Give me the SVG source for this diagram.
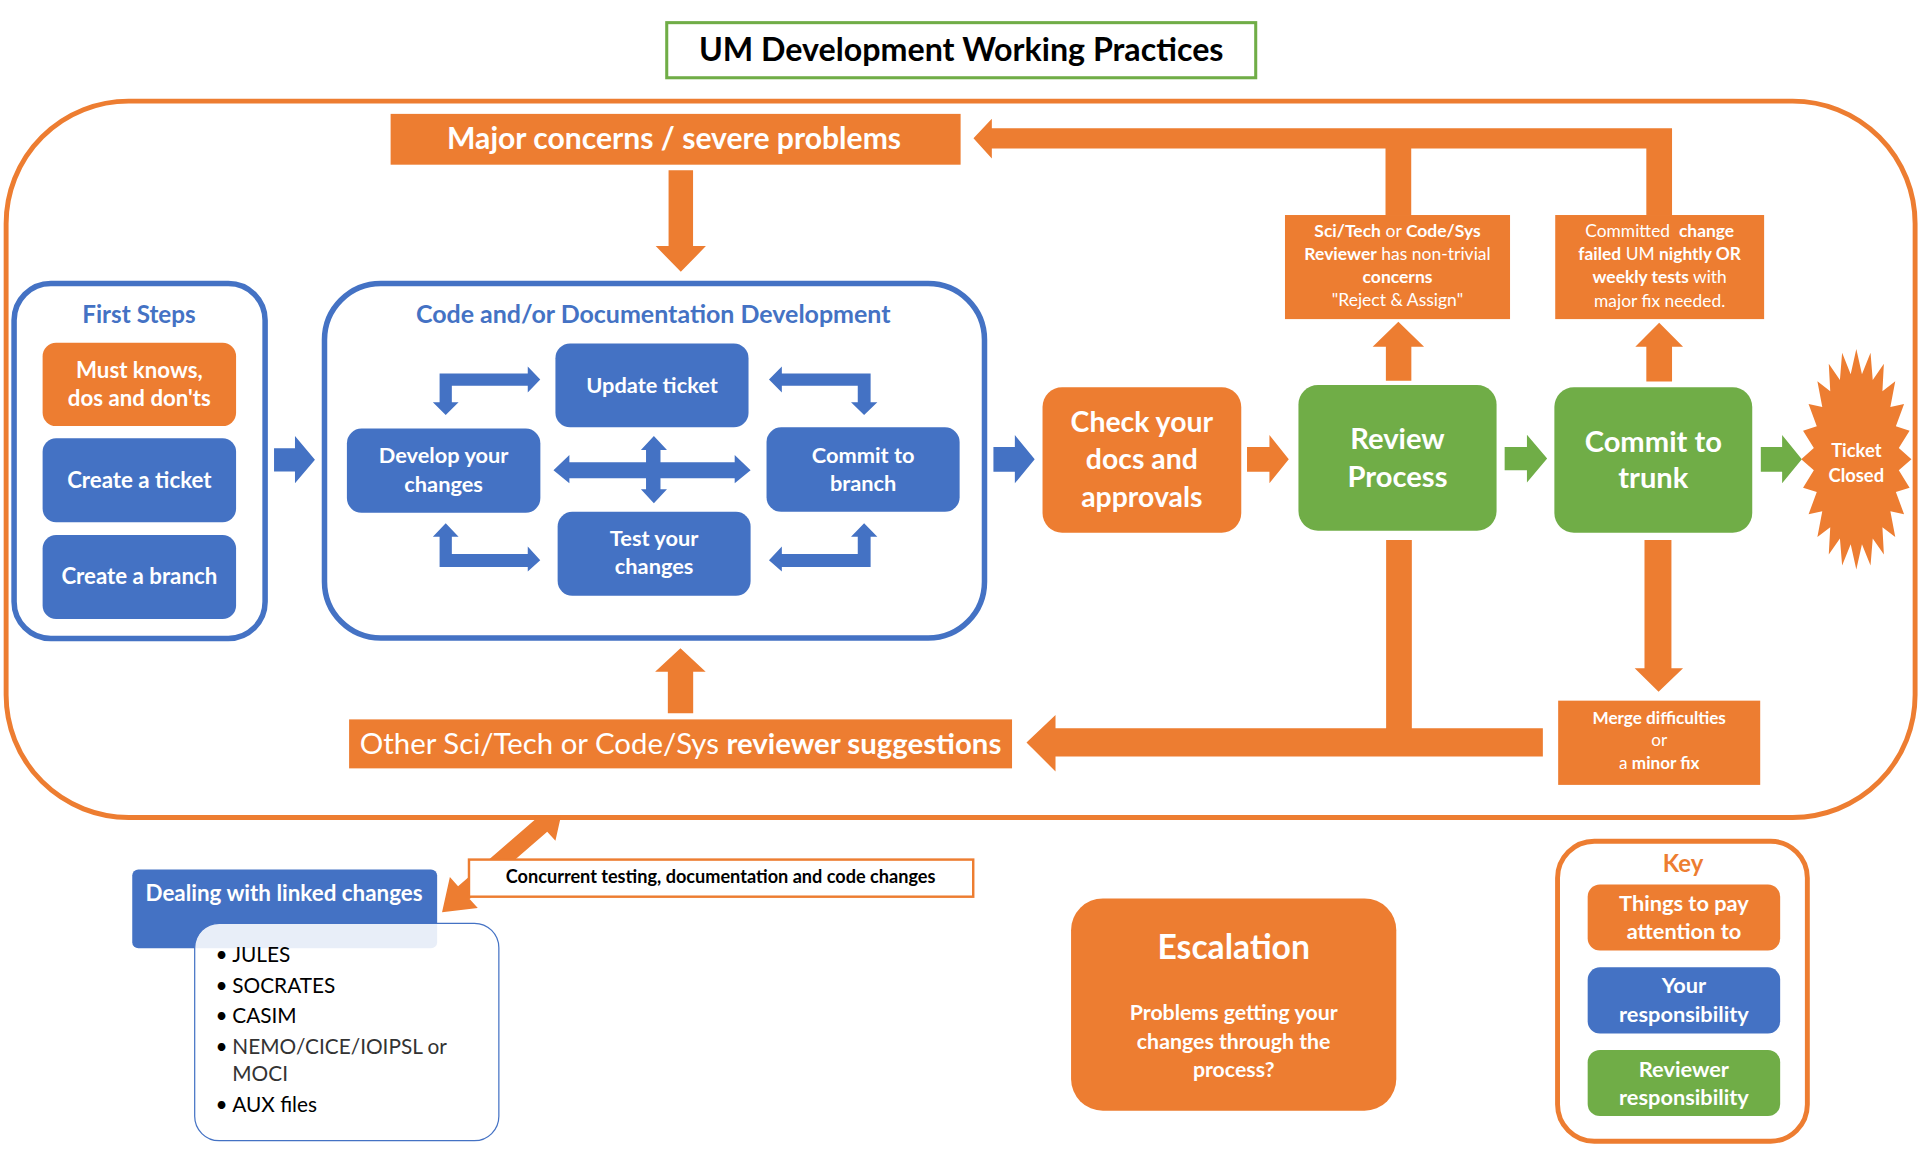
<svg xmlns="http://www.w3.org/2000/svg" width="1920" height="1152" viewBox="0 0 1920 1152">
<defs>
<style>
.o{fill:#ED7D31}.b{fill:#4472C4}.g{fill:#70AD47}
text{font-family:Lato,"Open Sans","Liberation Sans",sans-serif}
.w{fill:#fff;font-weight:bold;text-anchor:middle}
.wn{fill:#fff;text-anchor:middle}
.bt{fill:#4472C4;font-weight:bold;text-anchor:middle}
.n{font-weight:normal}
.bo{font-weight:bold}
</style>
<clipPath id="below"><rect x="0" y="667.5" width="1600" height="300"/></clipPath>
</defs>
<rect x="0" y="0" width="1920" height="1152" fill="#fff"/>
<g transform="scale(1.2244898)">

<g id="outer-frame">
<rect x="5" y="82.6" width="1559" height="585" rx="100" ry="100" fill="none" stroke="#ED7D31" stroke-width="4"/>
</g>

<g id="title">
<rect x="544.5" y="18.5" width="481" height="45" fill="#fff" stroke="#70AD47" stroke-width="2.5"/>
<text x="785" y="50" font-size="26.3" font-weight="bold" text-anchor="middle" fill="#000">UM Development Working Practices</text>
</g>

<g id="connectors">
<path class="o" d="M795,113 L810,97 L810,104.8 L1365.5,104.8 L1365.5,176 L1344.5,176 L1344.5,121.2 L1152.5,121.2 L1152.5,176 L1131.5,176 L1131.5,121.2 L810,121.2 L810,129.5 Z"/>
<path class="o" d="M546,139 L566,139 L566,201 L576.5,201 L556,222 L535.5,201 L546,201 Z"/>
<path class="b" d="M223.8,366 L240.9,366 L240.9,356 L257.2,375.4 L240.9,394.7 L240.9,385 L223.8,385 Z"/>
<path class="b" d="M811.3,365 L828.8,365 L828.8,355.3 L845,375 L828.8,394.7 L828.8,385.2 L811.3,385.2 Z"/>
<path class="o" d="M1018.4,365 L1036.7,365 L1036.7,355.3 L1052.5,375 L1036.7,394.7 L1036.7,385.2 L1018.4,385.2 Z"/>
<path class="g" d="M1228.8,365 L1247,365 L1247,355 L1263.5,374.5 L1247,394 L1247,384 L1228.8,384 Z"/>
<path class="g" d="M1438,365 L1455.4,365 L1455.4,355.3 L1471.5,375 L1455.4,394.7 L1455.4,385.2 L1438,385.2 Z"/>
<path class="o" d="M1131.8,311 L1131.8,283.1 L1121,283.1 L1142,262.7 L1163,283.1 L1152.6,283.1 L1152.6,311 Z"/>
<path class="o" d="M1344.5,311.5 L1344.5,283.1 L1335.5,283.1 L1355,263.5 L1374.5,283.1 L1365.5,283.1 L1365.5,311.5 Z"/>
<path class="o" d="M838.3,606.4 L862,584 L862,594.8 L1132,594.8 L1132,441 L1153,441 L1153,594.8 L1260,594.8 L1260,617.9 L862,617.9 L862,630 Z"/>
<path class="o" d="M1343,441 L1365,441 L1365,545.8 L1374.5,545.8 L1354.5,565 L1335,545.8 L1343,545.8 Z"/>
<path class="o" d="M545.4,582.5 L545.4,548.5 L535,548.5 L555.7,529.5 L576.3,548.5 L566.1,548.5 L566.1,582.5 Z"/>
<path class="o" clip-path="url(#below)" d="M460,658 L453.6,686.7 L446.9,679.3 L383.5,734.1 L390.2,741.5 L361,745 L367.4,716.3 L374.1,723.7 L437.5,668.9 L430.8,661.5 Z"/>
<path class="b" d="M359,305 L431,305 L431,299.4 L441.2,310 L431,320.5 L431,315 L369,315 L369,328.5 L374.5,328.5 L364,339 L353.5,328.5 L359,328.5 Z"/>
<path class="b" d="M711,305 L638.5,305 L638.5,299.4 L628,310 L638.5,320.5 L638.5,315 L700.5,315 L700.5,328.5 L695,328.5 L705.7,339 L716.5,328.5 L711,328.5 Z"/>
<path class="b" d="M359,463 L431,463 L431,466.8 L441.2,457.5 L431,446.4 L431,452.5 L369,452.5 L369,438.3 L374.5,438.3 L364,427.4 L353.5,438.3 L359,438.3 Z"/>
<path class="b" d="M711,463 L638.5,463 L638.5,466.8 L628,457.5 L638.5,446.4 L638.5,452.5 L700.5,452.5 L700.5,438.3 L695,438.3 L705.7,427.4 L716.5,438.3 L711,438.3 Z"/>
<path class="b" d="M452,384 L465,371.6 L465,377.5 L527.6,377.5 L527.6,367.5 L523.4,367.5 L534,356 L544.7,367.5 L539.4,367.5 L539.4,377.5 L600,377.5 L600,371.6 L613,384 L600,394.7 L600,390.5 L539.4,390.5 L539.4,399.6 L544.7,399.6 L534,411 L523.4,399.6 L527.6,399.6 L527.6,390.5 L465,390.5 L465,394.7 Z"/>
</g>

<g id="major-concerns">
<rect class="o" x="319" y="93" width="465.5" height="41.5"/>
<text class="w" x="550.5" y="122" font-size="24.6">Major concerns / severe problems</text>
</g>

<g id="first-steps">
<rect x="11.5" y="231.5" width="205" height="290" rx="30" fill="#fff" stroke="#4472C4" stroke-width="4.5"/>
<text class="bt" x="113.5" y="264" font-size="19.8">First Steps</text>
</g>
<g id="must-knows">
<rect class="o" x="34.8" y="280" width="158" height="68" rx="11"/>
<text class="w" x="113.8" y="309" font-size="18.2">Must knows,</text>
<text class="w" x="113.8" y="331.6" font-size="18.2">dos and don'ts</text>
</g>
<g id="create-ticket">
<rect class="b" x="34.8" y="358" width="158" height="68.5" rx="11"/>
<text class="w" x="113.8" y="398.8" font-size="18.2">Create a ticket</text>
</g>
<g id="create-branch">
<rect class="b" x="34.8" y="437" width="158" height="68.5" rx="11"/>
<text class="w" x="113.8" y="477" font-size="18.2">Create a branch</text>
</g>

<g id="code-dev">
<rect x="265" y="231.5" width="539" height="289.5" rx="46" fill="none" stroke="#4472C4" stroke-width="4.5"/>
<text class="bt" x="533.5" y="263.5" font-size="20.4">Code and/or Documentation Development</text>
</g>
<g id="update-ticket">
<rect class="b" x="453.6" y="280.5" width="157.7" height="68.5" rx="12"/>
<text class="w" x="532.5" y="321" font-size="17.8">Update ticket</text>
</g>
<g id="develop-changes">
<rect class="b" x="283.3" y="350" width="158" height="68.7" rx="12"/>
<text class="w" x="362.3" y="378.4" font-size="17.8">Develop your</text>
<text class="w" x="362.3" y="401.5" font-size="17.8">changes</text>
</g>
<g id="commit-branch">
<rect class="b" x="626" y="349" width="157.7" height="69" rx="12"/>
<text class="w" x="704.9" y="377.8" font-size="17.8">Commit to</text>
<text class="w" x="704.9" y="400.7" font-size="17.8">branch</text>
</g>
<g id="test-changes">
<rect class="b" x="455.4" y="418" width="157.6" height="68.5" rx="12"/>
<text class="w" x="534.2" y="445.9" font-size="17.8">Test your</text>
<text class="w" x="534.2" y="468.8" font-size="17.8">changes</text>
</g>

<g id="check-docs">
<rect class="o" x="851.4" y="316.3" width="162.3" height="118.7" rx="16"/>
<text class="w" x="932.5" y="352.5" font-size="23.2">Check your</text>
<text class="w" x="932.5" y="383.3" font-size="23.2">docs and</text>
<text class="w" x="932.5" y="414.3" font-size="23.2">approvals</text>
</g>

<g id="review-process">
<rect class="g" x="1060.4" y="314.4" width="161.8" height="119" rx="16"/>
<text class="w" x="1141.3" y="367" font-size="23.8">Review</text>
<text class="w" x="1141.3" y="397.5" font-size="23.8">Process</text>
</g>

<g id="commit-trunk">
<rect class="g" x="1269.4" y="316.3" width="161.6" height="118.7" rx="16"/>
<text class="w" x="1350.2" y="368.9" font-size="23.8">Commit to</text>
<text class="w" x="1350.2" y="398.8" font-size="23.8">trunk</text>
</g>

<g id="ticket-closed">
<polygon class="o" points="1516,285 1520.6,305.6 1527.6,288.1 1529.4,310.3 1538.5,297.1 1537.3,319.5 1547.8,311.4 1543.8,332.4 1555,330 1548.3,348.2 1559.5,351.7 1550.7,365.9 1561,375 1550.7,384.1 1559.5,398.3 1548.3,401.8 1555,420 1543.8,417.6 1547.8,438.6 1537.3,430.5 1538.5,452.9 1529.4,439.7 1527.6,461.9 1520.6,444.4 1516,465 1511.4,444.4 1504.4,461.9 1502.6,439.7 1493.5,452.9 1494.7,430.5 1484.2,438.6 1488.2,417.6 1477,420 1483.7,401.8 1472.5,398.3 1481.3,384.1 1471,375 1481.3,365.9 1472.5,351.7 1483.7,348.2 1477,330 1488.2,332.4 1484.2,311.4 1494.7,319.5 1493.5,297.1 1502.6,310.3 1504.4,288.1 1511.4,305.6"/>
<text class="w" x="1516" y="373" font-size="15">Ticket</text>
<text class="w" x="1516" y="393.4" font-size="15">Closed</text>
</g>

<g id="reviewer-concerns">
<rect class="o" x="1049.4" y="175.6" width="183.8" height="85"/>
<text class="wn" x="1141.3" y="193.3" font-size="14.3"><tspan class="bo">Sci/Tech</tspan> or <tspan class="bo">Code/Sys</tspan></text>
<text class="wn" x="1141.3" y="212.4" font-size="14.3"><tspan class="bo">Reviewer</tspan> has non-trivial</text>
<text class="wn" x="1141.3" y="231" font-size="14.3"><tspan class="bo">concerns</tspan></text>
<text class="wn" x="1141.3" y="250" font-size="14.3">"Reject &amp; Assign"</text>
</g>

<g id="failed-tests">
<rect class="o" x="1270.1" y="175.6" width="170.6" height="85"/>
<text class="wn" x="1355.4" y="193.3" font-size="14.2">Committed&#160; <tspan class="bo">change</tspan></text>
<text class="wn" x="1355.4" y="212.4" font-size="14.2"><tspan class="bo">failed</tspan> UM <tspan class="bo">nightly OR</tspan></text>
<text class="wn" x="1355.4" y="231.4" font-size="14.2"><tspan class="bo">weekly tests</tspan> with</text>
<text class="wn" x="1355.4" y="250.5" font-size="14.2">major fix needed.</text>
</g>

<g id="merge-difficulties">
<rect class="o" x="1272.5" y="572.2" width="165" height="68.8"/>
<text class="wn" x="1355" y="591.2" font-size="14"><tspan class="bo">Merge difficulties</tspan></text>
<text class="wn" x="1355" y="609" font-size="14">or</text>
<text class="wn" x="1355" y="628" font-size="14">a <tspan class="bo">minor fix</tspan></text>
</g>

<g id="other-suggestions">
<rect class="o" x="285.1" y="587.5" width="541.4" height="40"/>
<text class="wn" x="555.8" y="616" font-size="24">Other Sci/Tech or Code/Sys <tspan class="bo">reviewer suggestions</tspan></text>
</g>

<g id="concurrent">
<rect x="383" y="702" width="411.8" height="30.3" fill="#fff" stroke="#ED7D31" stroke-width="2"/>
<text x="588.5" y="721.5" font-size="14.8" font-weight="bold" text-anchor="middle" fill="#000">Concurrent testing, documentation and code changes</text>
</g>

<g id="linked-changes">
<rect class="b" x="108" y="710" width="249" height="64.5" rx="5"/>
<text class="w" x="232" y="736" font-size="18.3">Dealing with linked changes</text>
<rect x="159" y="754" width="248.4" height="177.6" rx="20" fill="#fff" fill-opacity="0.88" stroke="#4472C4" stroke-width="1"/>
<g font-size="17" fill="#000">
<text x="176" y="785.4">•</text><text x="189.7" y="785.4">JULES</text>
<text x="176" y="810.7">•</text><text x="189.7" y="810.7">SOCRATES</text>
<text x="176" y="835.2">•</text><text x="189.7" y="835.2">CASIM</text>
<text x="176" y="860.8">•</text><text x="189.7" y="860.8" fill="#333">NEMO/CICE/IOIPSL or</text>
<text x="189.7" y="882.9" fill="#333">MOCI</text>
<text x="176" y="907.9">•</text><text x="189.7" y="907.9">AUX files</text>
</g>
</g>

<g id="escalation">
<rect class="o" x="874.7" y="733.7" width="265.6" height="173.4" rx="26"/>
<text class="w" x="1007.5" y="783" font-size="27.5">Escalation</text>
<text class="w" x="1007.5" y="833" font-size="17.4">Problems getting your</text>
<text class="w" x="1007.5" y="856.7" font-size="17.4">changes through the</text>
<text class="w" x="1007.5" y="879.8" font-size="17.4">process?</text>
</g>

<g id="key">
<rect x="1272" y="687" width="204" height="245" rx="30" fill="#fff" stroke="#ED7D31" stroke-width="4"/>
<text x="1374.5" y="712" font-size="19.5" font-weight="bold" text-anchor="middle" fill="#ED7D31">Key</text>
<rect class="o" x="1296.6" y="722.3" width="157.2" height="54" rx="10"/>
<text class="w" x="1375.2" y="744" font-size="17.8">Things to pay</text>
<text class="w" x="1375.2" y="767.2" font-size="17.8">attention to</text>
<rect class="b" x="1296.6" y="790" width="157.2" height="54" rx="10"/>
<text class="w" x="1375.2" y="811.3" font-size="17.8">Your</text>
<text class="w" x="1375.2" y="834.4" font-size="17.8">responsibility</text>
<rect class="g" x="1296.6" y="857.5" width="157.2" height="54" rx="10"/>
<text class="w" x="1375.2" y="879.3" font-size="17.8">Reviewer</text>
<text class="w" x="1375.2" y="902.5" font-size="17.8">responsibility</text>
</g>

</g>
</svg>
